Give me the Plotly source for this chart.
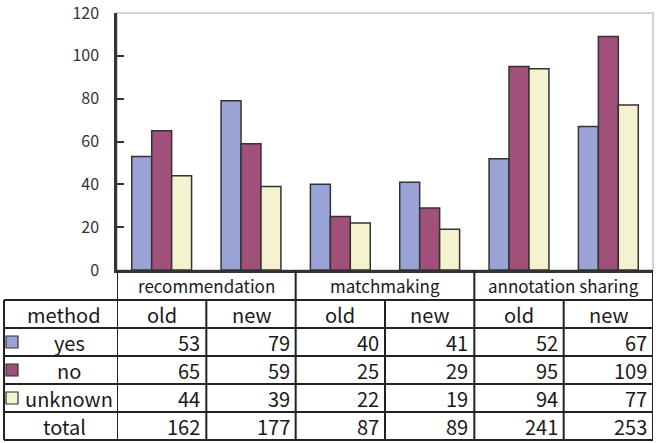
import plotly.graph_objects as go

# ---- data ----
groups = ["recommendation", "matchmaking", "annotation sharing"]
methods = ["old", "new"]
series_names = ["yes", "no", "unknown"]
yes_vals = [53, 79, 40, 41, 52, 67]
no_vals = [65, 59, 25, 29, 95, 109]
unknown_vals = [44, 39, 22, 19, 94, 77]
total_vals = [162, 177, 87, 89, 241, 253]
y_ticks = [0, 20, 40, 60, 80, 100, 120]

colors = ["#99A3D6", "#A1507A", "#F5F2CF"]
series_vals = [yes_vals, no_vals, unknown_vals]

W, H = 658, 443
L, R, T, B = 117, 653, 13, 270
FONT = "Noto Sans CJK JP"
TXT = "#1a1a1a"

def py(p):
    return (B - p) / (B - T)

def pxp(p):
    return (p - L) / (R - L)

n = len(yes_vals)
xs = list(range(n))

fig = go.Figure()
for name, vals, c in zip(series_names, series_vals, colors):
    fig.add_trace(go.Bar(x=xs, y=vals, name=name, marker=dict(color=c, line=dict(color="#333333", width=1.5)),
                         showlegend=False))

shapes = []
annotations = []

shapes.append(dict(type="rect", xref="paper", yref="paper", x0=0, x1=1, y0=0, y1=1,
                   line=dict(color="#C4C4C4", width=1.5), layer="below"))

LW = 2
LC = "#222222"
row_edges = [270, 300, 328, 356, 384, 412, 440]
for p in row_edges[1:]:
    shapes.append(dict(type="line", xref="paper", yref="paper", x0=pxp(4), x1=1,
                       y0=py(p), y1=py(p), line=dict(color=LC, width=LW)))
shapes.append(dict(type="line", xref="paper", yref="paper", x0=pxp(4), x1=pxp(4),
                   y0=py(300), y1=py(440), line=dict(color=LC, width=LW)))
for i in range(n + 1):
    edge = i - 0.5
    top = 270 if i % 2 == 0 else 300
    shapes.append(dict(type="line", xref="x", yref="paper", x0=edge, x1=edge,
                       y0=py(top), y1=py(440), line=dict(color=LC, width=LW)))

for g, name in enumerate(groups):
    annotations.append(dict(x=2 * g + 0.5, y=py(285.5), xref="x", yref="paper", text=name,
                            showarrow=False, font=dict(family=FONT, size=17, color=TXT),
                            xanchor="center", yanchor="middle"))
annotations.append(dict(x=pxp(64), y=py(314), xref="paper", yref="paper", text="method",
                        showarrow=False, font=dict(family=FONT, size=20, color=TXT),
                        xanchor="center", yanchor="middle"))
for i in xs:
    annotations.append(dict(x=i, y=py(314), xref="x", yref="paper", text=methods[i % 2],
                            showarrow=False, font=dict(family=FONT, size=20, color=TXT),
                            xanchor="center", yanchor="middle"))

row_centers = [342, 370, 398]
for r, (name, vals, c) in enumerate(zip(series_names, series_vals, colors)):
    yc = row_centers[r]
    shapes.append(dict(type="rect", xref="paper", yref="paper", x0=pxp(6), x1=pxp(18),
                       y0=py(yc + 6), y1=py(yc - 6), fillcolor=c, line=dict(color="#333333", width=1.2)))
    annotations.append(dict(x=pxp(69), y=py(yc), xref="paper", yref="paper", text=name,
                            showarrow=False, font=dict(family=FONT, size=20, color=TXT),
                            xanchor="center", yanchor="middle"))
    for i in xs:
        annotations.append(dict(x=i + 0.5, y=py(yc), xref="x", yref="paper", text=str(vals[i]),
                                showarrow=False, font=dict(family=FONT, size=20, color=TXT),
                                xanchor="right", yanchor="middle", xshift=-4))
annotations.append(dict(x=pxp(64), y=py(426), xref="paper", yref="paper", text="total",
                        showarrow=False, font=dict(family=FONT, size=20, color=TXT),
                        xanchor="center", yanchor="middle"))
for i in xs:
    annotations.append(dict(x=i + 0.5, y=py(426), xref="x", yref="paper", text=str(total_vals[i]),
                            showarrow=False, font=dict(family=FONT, size=20, color=TXT),
                            xanchor="right", yanchor="middle", xshift=-4))

fig.update_layout(
    width=W, height=H,
    margin=dict(l=L, r=W - R, t=T, b=H - B, pad=0, autoexpand=False),
    paper_bgcolor="white", plot_bgcolor="white",
    barmode="group", bargap=0.33, bargroupgap=0,
    shapes=shapes, annotations=annotations,
    xaxis=dict(range=[-0.5, n - 0.5], showticklabels=False, ticks="", showgrid=False,
               zeroline=False, showline=True, linecolor="#333333", linewidth=2.5, automargin=False),
    yaxis=dict(range=[0, 120.02], tickvals=y_ticks, ticks="inside", ticklen=7, tickwidth=1.5,
               tickcolor="#333333", showgrid=False, zeroline=False, showline=True,
               linecolor="#333333", linewidth=2.5, ticklabelstandoff=12,
               ticklabeloverflow="allow", automargin=False,
               tickfont=dict(family=FONT, size=16, color="#333333")),
)

fig.write_html("out.html")
